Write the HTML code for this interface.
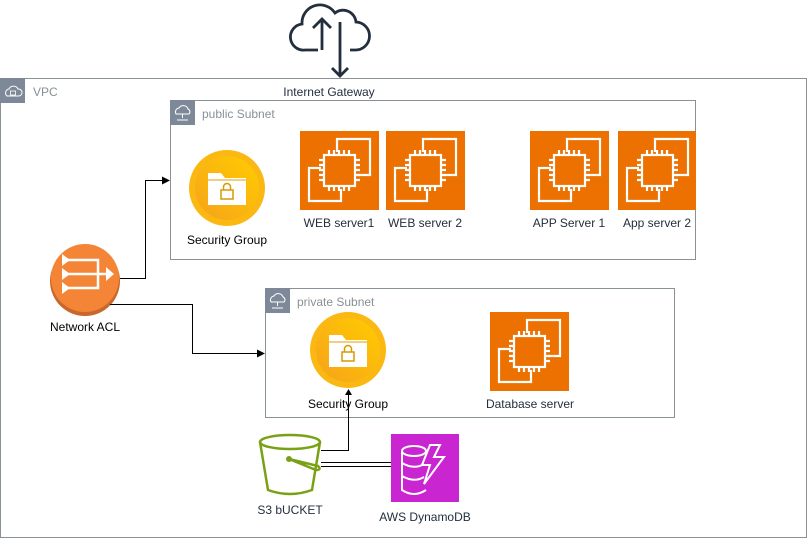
<!DOCTYPE html>
<html><head><meta charset="utf-8"><style>
html,body{margin:0;padding:0;background:#fff;}
svg{display:block;font-family:"Liberation Sans",Arial,sans-serif;}
</style></head><body>
<svg width="811" height="539" viewBox="0 0 811 539" xmlns="http://www.w3.org/2000/svg">
<defs>
<g id="ec2">
<rect x="0" y="0" width="79" height="79" fill="#ED7100"/>
<g fill="none" stroke="#fff" stroke-width="2.2">
<path d="M37 21 V8 H70 V44 H58"/>
<path d="M21 37 H9 V70 H41 V58"/>
<rect x="24" y="24" width="31" height="31"/>
<path d="M29 24v-5M34 24v-5M39 24v-5M44 24v-5M49 24v-5M29 55v5M34 55v5M39 55v5M44 55v5M49 55v5M24 29h-5M24 34h-5M24 39h-5M24 44h-5M24 49h-5M55 29h5M55 34h5M55 39h5M55 44h5M55 49h5"/>
</g>
</g>
<linearGradient id="sgg" x1="0" y1="1" x2="1" y2="0"><stop offset="0" stop-color="#F7A21B"/><stop offset="1" stop-color="#FFCC00"/></linearGradient>
<g id="sg">
<circle r="38" fill="#FCB812"/>
<circle r="32" fill="url(#sgg)"/>
<path d="M-19 -15 H-6 L-2 -10 H19 V17 H-19 Z" fill="#fff"/>
<path d="M-19 -8 H19" stroke="#E0A100" stroke-width="1"/>
<rect x="-6" y="2" width="12" height="9" fill="none" stroke="#D79A00" stroke-width="1.5"/>
<path d="M-3.5 2 V-1 a3.5 3.5 0 0 1 7 0 V2" fill="none" stroke="#D79A00" stroke-width="1.5"/>
</g>
<g id="subicon">
<rect x="0" y="0" width="25" height="25" fill="#7D8998"/>
<path d="M6 14 a4 4 0 0 1 3 -6 a5 5 0 0 1 9 1 a3 3 0 0 1 1 5 Z" fill="none" stroke="#fff" stroke-width="1"/>
<path d="M12.5 14 v4 M7 20 h11" stroke="#fff" stroke-width="1"/>
</g>
</defs>

<rect x="0.5" y="78.5" width="806" height="459" fill="none" stroke="#879196" stroke-width="1"/>
<rect x="0" y="78" width="25" height="25" fill="#7D8998"/>
<path d="M7 96 a4 4 0 0 1 2 -7 a5 5 0 0 1 9 0 a3.5 3.5 0 0 1 1 7 Z" fill="none" stroke="#fff" stroke-width="1"/>
<rect x="10.5" y="91" width="5" height="4" fill="none" stroke="#fff" stroke-width="0.8"/>
<text x="33" y="96" font-size="12" fill="#879196">VPC</text>

<g fill="none" stroke="#232F3E" stroke-width="2.8">
<path d="M318 50 H305 a13 13 0 0 1 -3 -26 a18 18 0 0 1 33 -11 a13 13 0 0 1 21 9 a14 14 0 0 1 -1 28 H350"/>
<path d="M322 50 V19 M313 28 L322 19 L331 28"/>
<path d="M340 22 V76 M332 68 L340 76 L348 68"/>
</g>
<text x="329" y="96" font-size="12" fill="#232F3E" text-anchor="middle">Internet Gateway</text>

<rect x="170.5" y="100.5" width="525" height="159" fill="none" stroke="#879196"/>
<use href="#subicon" x="170" y="100"/>
<text x="202" y="118" font-size="12" fill="#879196">public Subnet</text>
<use href="#sg" x="227" y="188"/>
<text x="227" y="244" font-size="12" fill="#000" text-anchor="middle">Security Group</text>
<use href="#ec2" x="300" y="131"/>
<use href="#ec2" x="386" y="131"/>
<use href="#ec2" x="530" y="131"/>
<use href="#ec2" x="618" y="131" />
<rect x="696" y="130" width="10" height="82" fill="#fff"/>
<text x="339" y="227" font-size="12" fill="#232F3E" text-anchor="middle">WEB server1</text>
<text x="425" y="227" font-size="12" fill="#232F3E" text-anchor="middle">WEB server 2</text>
<text x="569" y="227" font-size="12" fill="#232F3E" text-anchor="middle">APP Server 1</text>
<text x="657" y="227" font-size="12" fill="#232F3E" text-anchor="middle">App server 2</text>

<rect x="265.5" y="288.5" width="409" height="129" fill="none" stroke="#879196"/>
<use href="#subicon" x="265" y="288"/>
<text x="297" y="306" font-size="12" fill="#879196">private Subnet</text>
<use href="#sg" x="348" y="350"/>
<text x="348" y="408" font-size="12" fill="#000" text-anchor="middle">Security Group</text>
<use href="#ec2" x="490" y="312"/>
<text x="530" y="408" font-size="12" fill="#232F3E" text-anchor="middle">Database server</text>

<circle cx="85" cy="281" r="35" fill="#C8682C"/>
<circle cx="85" cy="278" r="34" fill="#F58536"/>
<g fill="none" stroke="#fff" stroke-width="2.5">
<path d="M68 260 H98 V288 H68 M68 274 H108"/>
</g>
<path d="M62 254 L70 260 L62 266 Z M62 268 L70 274 L62 280 Z M62 282 L70 288 L62 294 Z M106 267 L114 274 L106 281 Z" fill="#fff"/>
<text x="85" y="331" font-size="12" fill="#000" text-anchor="middle">Network ACL</text>

<g fill="none" stroke="#000" stroke-width="1">
<path d="M120 278.5 H145.5 V180.5 H163"/>
<path d="M110 304.5 H192.5 V353.5 H258"/>
<path d="M321 450.5 H348.5 V395"/>
<path d="M321 462.5 H391 M321 466.5 H391"/>
</g>
<path d="M170 180.5 L162 176.5 L162 184.5 Z M265 353.5 L257 349.5 L257 357.5 Z M348.5 389 L345 395 L352 395 Z" fill="#000"/>

<g fill="none" stroke="#7AA116" stroke-width="2.5">
<ellipse cx="290" cy="442" rx="30" ry="7"/>
<path d="M260 442 L268 490 Q290 498 312 490 L320 442"/>
<path d="M289 459 L318 466 Q322 470 316 470 Z"/>
</g>
<circle cx="289" cy="459" r="3" fill="#7AA116"/>
<text x="290" y="514" font-size="12" fill="#232F3E" text-anchor="middle">S3 bUCKET</text>

<rect x="391" y="434" width="68" height="68" fill="#C925D1"/>
<g fill="none" stroke="#fff" stroke-width="2">
<ellipse cx="414" cy="451" rx="12" ry="5"/>
<path d="M402 451 V490 Q414 498 426 490 M402 463 Q414 470 424 464 M402 476 Q414 483 424 477"/>
<path d="M430 445 L440 445 L434 457 L444 457 L424 484 L430 465 L422 465 Z"/>
</g>
<text x="425" y="521" font-size="12" fill="#232F3E" text-anchor="middle">AWS DynamoDB</text>
</svg>
</body></html>
